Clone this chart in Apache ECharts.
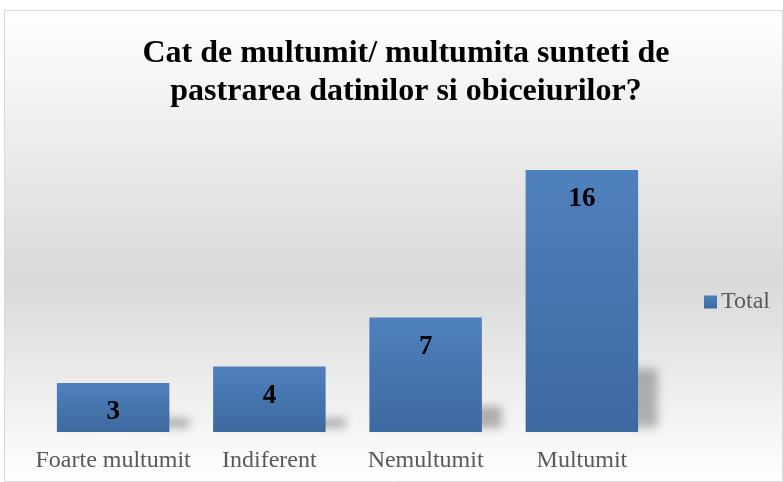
<!DOCTYPE html>
<html>
<head>
<meta charset="utf-8">
<script src="https://cdn.jsdelivr.net/npm/echarts@6/dist/echarts.min.js"></script>
<style>
  html, body { margin: 0; padding: 0; background: #ffffff; }
  #chart { width: 783px; height: 482px; }
</style>
</head>
<body>
<div id="chart"></div>
<script>
// Survey answers and their counts
const categories = ['Foarte multumit', 'Indiferent', 'Nemultumit', 'Multumit'];
const totals = [3, 4, 7, 16];
const seriesName = 'Total';
const titleText = 'Cat de multumit/ multumita sunteti de\npastrarea datinilor si obiceiurilor?';

const serif = '"Liberation Serif", "Times New Roman", serif';
const chart = echarts.init(document.getElementById('chart'));

const barGradient = new echarts.graphic.LinearGradient(0, 0, 0, 1, [
  { offset: 0, color: '#4f81bd' },
  { offset: 1, color: '#3c699f' }
]);

// The shadow shape is drawn off to the side and only its blurred shadow
// is shifted back next to the bar, so the soft edge comes without a hard fill.
const SHIFT = 3000;

chart.setOption({
  animation: false,
  graphic: [{
    type: 'rect',
    z: -10,
    shape: { x: 4.5, y: 10.5, width: 778, height: 471 },
    style: {
      fill: new echarts.graphic.LinearGradient(0, 0, 0, 1, [
        { offset: 0, color: '#ffffff' },
        { offset: 0.57, color: '#d9d9d9' },
        { offset: 1, color: '#ffffff' }
      ]),
      stroke: '#d9d9d9',
      lineWidth: 1
    }
  }],
  title: {
    text: titleText,
    left: 401,
    textAlign: 'center',
    top: 30,
    textStyle: {
      fontFamily: serif,
      fontWeight: 'bold',
      fontSize: 32,
      lineHeight: 38,
      color: '#000000'
    }
  },
  legend: {
    data: [seriesName],
    left: 699,
    top: 285,
    itemWidth: 13,
    itemHeight: 13,
    itemGap: 4,
    icon: 'rect',
    textStyle: { fontFamily: serif, fontSize: 24, color: '#595959', padding: [2, 0, 0, -1] }
  },
  grid: { left: 35, right: 123, top: 137.25, bottom: 50, containLabel: false },
  xAxis: {
    type: 'category',
    data: categories,
    axisLine: { show: false },
    axisTick: { show: false },
    axisLabel: { interval: 0, fontFamily: serif, fontSize: 24, color: '#595959', margin: 17 }
  },
  yAxis: {
    type: 'value',
    min: 0,
    max: 18,
    show: false,
    splitLine: { show: false }
  },
  series: [
    {
      // soft shadow beside the lower part of each bar
      type: 'custom',
      silent: true,
      z: 1,
      clip: false,
      data: totals.map((v, i) => [i, v]),
      renderItem: function (params, api) {
        const base = api.coord([api.value(0), 0]);
        const top = api.coord([api.value(0), api.value(1)]);
        const w = api.size([1, 0])[0] * 0.72;
        const xr = base[0] + w / 2;
        const h = base[1] - top[1];
        const ty = base[1] - Math.max(18, h * 0.26);
        const s = 20;
        return {
          type: 'polygon',
          shape: {
            points: [
              [xr - 8 - SHIFT, base[1] - 4],
              [xr - 8 - SHIFT, ty + 4],
              [xr + s - SHIFT, ty + 4],
              [xr + s - SHIFT, base[1] - 4]
            ]
          },
          style: {
            fill: '#000000',
            shadowBlur: 9,
            shadowOffsetX: SHIFT,
            shadowColor: 'rgba(0,0,0,0.28)'
          }
        };
      }
    },
    {
      name: seriesName,
      type: 'bar',
      z: 2,
      data: totals,
      barCategoryGap: '28%',
      itemStyle: { color: barGradient },
      label: {
        show: true,
        position: 'insideTop',
        distance: 16,
        fontFamily: serif,
        fontWeight: 'bold',
        fontSize: 27,
        color: '#000000'
      }
    }
  ]
});
</script>
</body>
</html>
